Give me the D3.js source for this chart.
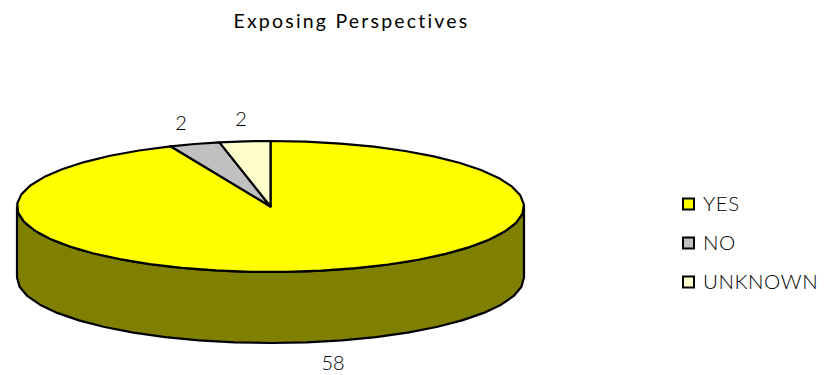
<!DOCTYPE html>
<html><head><meta charset="utf-8">
<script src="https://cdn.jsdelivr.net/npm/d3@7/dist/d3.min.js"></script>
<style>html,body{margin:0;padding:0;background:#fff}svg{display:block}text{font-family:Lato,"Open Sans",sans-serif;fill:#000}</style>
</head><body><svg id="c" width="824" height="375"></svg>
<script>
const categories = ["YES","NO","UNKNOWN"];
const values = [58,2,2];
const colors = ["#ffff00","#c0c0c0","#ffffcc"];
const sideColor = "#808000";
const title = "Exposing Perspectives";

const W=824,H=375;
const cx=270.5,cy=206.5,rx=253.5,ry=65.5,depth=71;
const svg=d3.select("#c");
svg.append("text").attr("x",351.5).attr("y",28).attr("text-anchor","middle")
  .attr("font-size",19.5).attr("letter-spacing",2.2).attr("font-weight",400).text(title);

const pie=d3.pie().sort(null).value(d=>d)(values);
const px=a=>cx+rx*Math.sin(a), py=a=>cy-ry*Math.cos(a);
const line=d3.line().x(d=>px(d)).y(d=>py(d));
const g=svg.append("g").attr("stroke","#000").attr("stroke-width",2.2).attr("stroke-linejoin","round");

// side wall: front half of the ellipse, extruded
const N=22;
const front=d3.range(N+1).map(i=>Math.PI/2+Math.PI*i/N);
const topEdge=line(front);
const botEdge=d3.line().x(px).y(a=>py(a)+depth)(front.slice().reverse());
g.append("path").attr("d",topEdge+"L"+botEdge.slice(1)+"Z").attr("fill",sideColor);

// top faces
g.selectAll("path.s").data(pie).join("path").attr("class","s")
 .attr("fill",(d,i)=>colors[i])
 .attr("d",d=>{
   const n=Math.max(2,Math.ceil((d.endAngle-d.startAngle)/(2*Math.PI)*44));
   const pts=d3.range(n+1).map(i=>d.startAngle+(d.endAngle-d.startAngle)*i/n);
   return line(pts)+"L"+cx+","+cy+"Z";
 });

// value labels
const labelPos=[[333,370],[181,130],[241,126]];
svg.selectAll("text.v").data(values).join("text").attr("class","v")
 .attr("x",(d,i)=>labelPos[i][0]).attr("y",(d,i)=>labelPos[i][1])
 .attr("text-anchor","middle").attr("font-size",20).attr("font-weight",300).text(d=>d);

// legend
const y=d3.scalePoint().domain(categories).range([204,282]);
const lg=svg.selectAll("g.l").data(categories).join("g").attr("class","l")
 .attr("transform",d=>`translate(683,${y(d)})`);
lg.append("rect").attr("x",0).attr("y",-5.5).attr("width",11).attr("height",11)
 .attr("fill",(d,i)=>colors[i]).attr("stroke","#000").attr("stroke-width",2);
lg.append("text").attr("x",20).attr("y",7).attr("font-size",20.5).attr("letter-spacing",0.55).attr("font-weight",300).text(d=>d);
</script></body></html>
